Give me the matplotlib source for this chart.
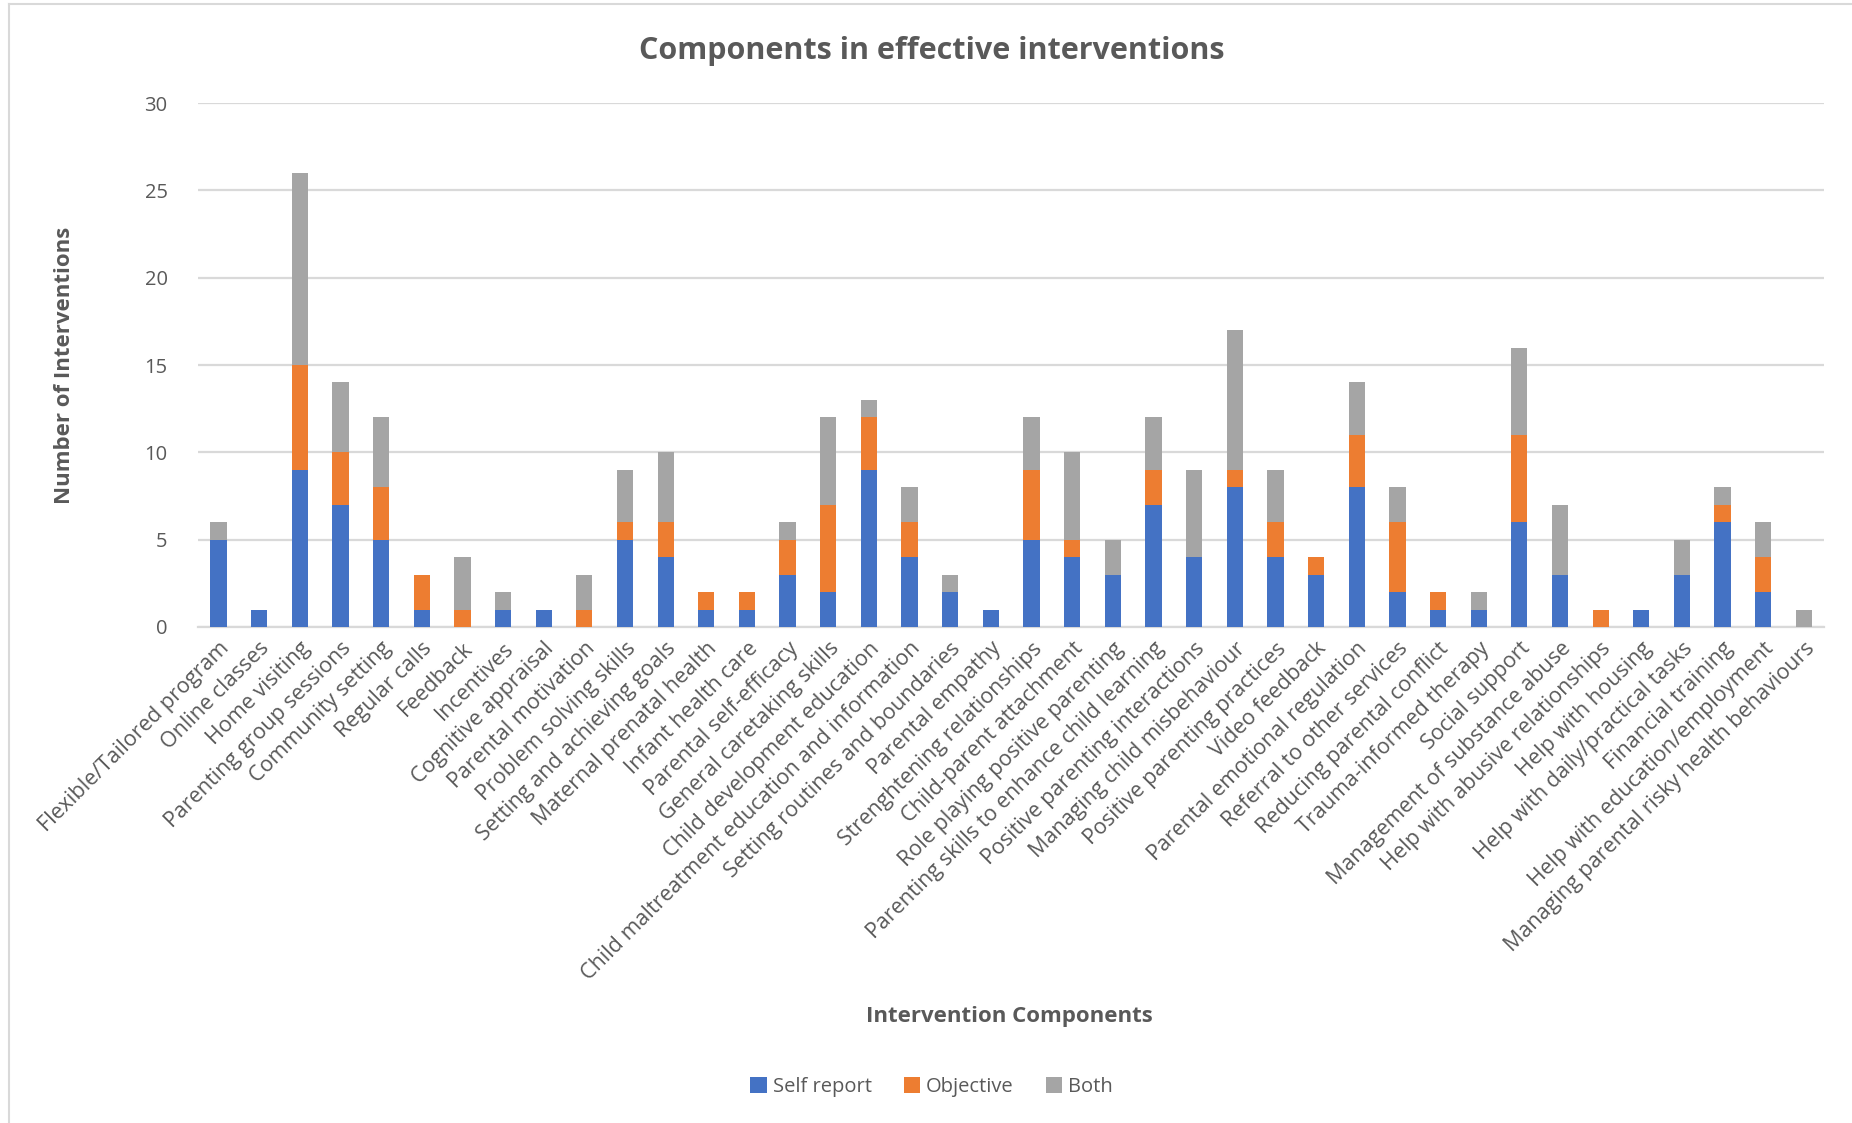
import numpy as np
import matplotlib.pyplot as plt
from matplotlib.lines import Line2D

plt.rcParams['font.family'] = ['Open Sans', 'DejaVu Sans']

components = [
    "Flexible/Tailored program", "Online classes", "Home visiting",
    "Parenting group sessions", "Community setting", "Regular calls",
    "Feedback", "Incentives", "Cognitive appraisal", "Parental motivation",
    "Problem solving skills", "Setting and achieving goals",
    "Maternal prenatal health", "Infant health care", "Parental self-efficacy",
    "General caretaking skills", "Child development education",
    "Child maltreatment education and information",
    "Setting routines and boundaries", "Parental empathy",
    "Strenghtening relationships", "Child-parent attachment",
    "Role playing positive parenting",
    "Parenting skills to enhance child learning",
    "Positive parenting interactions", "Managing child misbehaviour",
    "Positive parenting practices", "Video feedback",
    "Parental emotional regulation", "Referral to other services",
    "Reducing parental conflict", "Trauma-informed therapy", "Social support",
    "Management of substance abuse", "Help with abusive relationships",
    "Help with housing", "Help with daily/practical tasks",
    "Financial training", "Help with education/employment",
    "Managing parental risky health behaviours",
]

self_report = [5, 1, 9, 7, 5, 1, 0, 1, 1, 0, 5, 4, 1, 1, 3, 2, 9, 4, 2, 1,
               5, 4, 3, 7, 4, 8, 4, 3, 8, 2, 1, 1, 6, 3, 0, 1, 3, 6, 2, 0]
objective = [0, 0, 6, 3, 3, 2, 1, 0, 0, 1, 1, 2, 1, 1, 2, 5, 3, 2, 0, 0,
             4, 1, 0, 2, 0, 1, 2, 1, 3, 4, 1, 0, 5, 0, 1, 0, 0, 1, 2, 0]
both = [1, 0, 11, 4, 4, 0, 3, 1, 0, 2, 3, 4, 0, 0, 1, 5, 1, 2, 1, 0,
        3, 5, 2, 3, 5, 8, 3, 0, 3, 2, 0, 1, 5, 4, 0, 0, 2, 1, 2, 1]

blue = "#4472C4"
orange = "#ED7D31"
gray = "#A5A5A5"
text_col = "#595959"

fig = plt.figure(figsize=(18.52, 11.23), dpi=100)
ax = fig.add_axes([0.107, 0.4417, 0.878, 0.4665])

x = np.arange(len(components))
sr = np.array(self_report)
ob = np.array(objective)
bo = np.array(both)

ax.bar(x, sr, 0.4, color=blue, label="Self report", zorder=3)
ax.bar(x, ob, 0.4, bottom=sr, color=orange, label="Objective", zorder=3)
ax.bar(x, bo, 0.4, bottom=sr + ob, color=gray, label="Both", zorder=3)

ax.set_xlim(-0.5, len(components) - 0.5)
ax.set_ylim(0, 30)
ax.set_yticks(range(0, 31, 5))
ax.yaxis.grid(True, color="#D9D9D9", linewidth=1.6, zorder=0)
ax.set_axisbelow(True)
for s in ["top", "right", "left"]:
    ax.spines[s].set_visible(False)
ax.spines["bottom"].set_color("#D9D9D9")
ax.spines["bottom"].set_linewidth(1.6)
ax.tick_params(axis="y", length=0, colors=text_col, labelsize=14.5, pad=22)
ax.tick_params(axis="x", length=0, colors=text_col, labelsize=15.5, pad=8)

ax.set_xticks(x)
ax.set_xticklabels(components, rotation=45, ha="right", rotation_mode="anchor")

ax.set_ylabel("Number of Interventions", fontsize=16, fontweight="bold",
              color=text_col, labelpad=50)
fig.text(0.545, 0.095, "Intervention Components", ha="center", va="center",
         fontsize=16, fontweight="bold", color=text_col)
fig.text(0.503, 0.955, "Components in effective interventions", ha="center",
         va="center", fontsize=22, fontweight="bold", color=text_col)

leg = fig.legend(loc="center", bbox_to_anchor=(0.503, 0.032), ncol=3,
                 frameon=False, fontsize=14.5, handlelength=0.8,
                 handleheight=0.8, columnspacing=1.6, handletextpad=0.3)
for t in leg.get_texts():
    t.set_color(text_col)

# chart border
fig.add_artist(Line2D([0.005, 0.005], [0, 0.996], color="#D9D9D9", linewidth=1.5))
fig.add_artist(Line2D([0.005, 1], [0.996, 0.996], color="#D9D9D9", linewidth=1.5))

fig.savefig("out.png", dpi=100)
